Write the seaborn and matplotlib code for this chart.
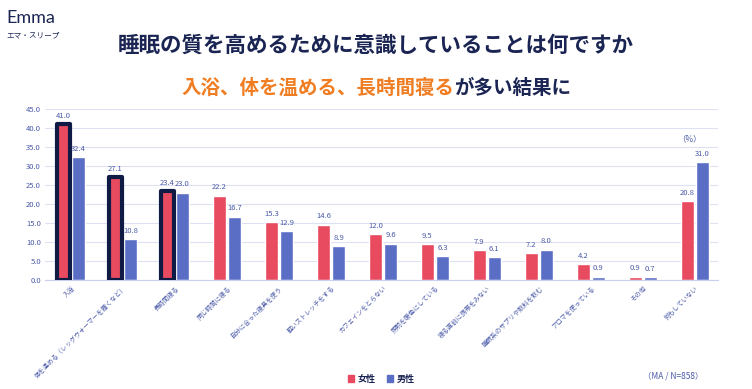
import matplotlib
matplotlib.use('Agg')
import matplotlib.pyplot as plt
import matplotlib.patches as mpatches
import pandas as pd
import seaborn as sns

# data
categories = ['入浴', '体を温める（レッグウォーマーを履くなど）', '長時間寝る', '同じ時間に寝る',
              '自分に合った寝具を使う', '軽いストレッチをする', 'カフェインをとらない',
              '照明を暖色にしている', '寝る直前に携帯をみない', '睡眠系のサプリや飲料を飲む',
              'アロマを使っている', 'その他', '何もしていない']
female = [41.0, 27.1, 23.4, 22.2, 15.3, 14.6, 12.0, 9.5, 7.9, 7.2, 4.2, 0.9, 20.8]
male = [32.4, 10.8, 23.0, 16.7, 12.9, 8.9, 9.6, 6.3, 6.1, 8.0, 0.9, 0.7, 31.0]
highlight = [0, 1, 2]  # index of the outlined female bars

RED = '#E84A5F'
BLUE = '#5B6EC6'
NAVY = '#1B2553'
ORANGE = '#F07D22'
TICK = '#4B5AA8'

df = pd.DataFrame({
    'item': categories * 2,
    'value': female + male,
    'sex': ['女性'] * len(categories) + ['男性'] * len(categories),
})

sns.set_style('white')
plt.rcParams['font.family'] = ['Noto Sans CJK JP', 'DejaVu Sans']

fig = plt.figure(figsize=(7.52, 3.89), dpi=100)
ax = fig.add_axes([0.06, 0.28, 0.895, 0.44])

sns.barplot(data=df, x='item', y='value', hue='sex', order=categories,
            hue_order=['女性', '男性'], palette=[RED, BLUE], saturation=1,
            width=0.58, gap=0.12, legend=False, ax=ax)

ax.set_ylim(0, 45)
ax.set_xlim(-0.5, 12.45)
ax.set_yticks(range(0, 50, 5))
ax.set_yticklabels([f'{v:.1f}' for v in range(0, 50, 5)], fontsize=5.5, color=TICK)
ax.set_xticks(range(len(categories)))
ax.set_xticklabels(categories, rotation=45, ha='right', rotation_mode='anchor',
                   fontsize=4.6, color=TICK)
ax.tick_params(axis='both', length=0, pad=3)
ax.grid(axis='y', color='#DDE1F3', linewidth=0.8)
ax.set_axisbelow(True)
ax.set_xlabel('')
ax.set_ylabel('')
for s in ['top', 'right', 'left']:
    ax.spines[s].set_visible(False)
ax.spines['bottom'].set_color('#C9D0F0')

# value labels
for cont in ax.containers:
    ax.bar_label(cont, fmt='%.1f', fontsize=5.5, color=TICK, padding=3)

# outline the top three female bars
for i in highlight:
    bar = ax.containers[0][i]
    bar.set_edgecolor('#0F1A45')
    bar.set_linewidth(3)
    bar.set_joinstyle('round')
    bar.set_zorder(3)

ax.text(11.9, 36.5, '（%）', fontsize=6, color=TICK, ha='center')

# titles
fig.text(0.5, 0.883, '睡眠の質を高めるために意識していることは何ですか', ha='center', va='center',
         fontsize=15.5, fontweight='bold', color=NAVY)

sub_parts = [('入浴、体を温める、長時間寝る', ORANGE), ('が多い結果に', NAVY)]
fig.canvas.draw()
r = fig.canvas.get_renderer()
texts = []
for s, c in sub_parts:
    texts.append(fig.text(0, 0.772, s, fontsize=14, fontweight='bold', color=c, va='center'))
widths = [t.get_window_extent(r).width for t in texts]
x = (fig.bbox.width - sum(widths)) / 2
for t, w in zip(texts, widths):
    t.set_x(x / fig.bbox.width)
    x += w

# logo
fig.text(0.008, 0.955, 'Emma', fontsize=13, color=NAVY, va='center', family='Lato')
fig.text(0.008, 0.91, 'エマ・スリープ', fontsize=5.5, color=NAVY, va='center')

# legend and note
handles = [mpatches.Patch(color=RED, label='女性'), mpatches.Patch(color=BLUE, label='男性')]
leg = fig.legend(handles=handles, loc='center', bbox_to_anchor=(0.507, 0.025), ncol=2,
                 frameon=False, fontsize=6.5, handlelength=0.7, handleheight=0.7,
                 handletextpad=0.4, columnspacing=1.2)
for t in leg.get_texts():
    t.set_color(NAVY)
    t.set_fontweight('bold')
fig.text(0.935, 0.033, '（MA / N=858）', fontsize=6, color=TICK, ha='right', va='center')

fig.savefig('out.png', dpi=100, facecolor='white')
